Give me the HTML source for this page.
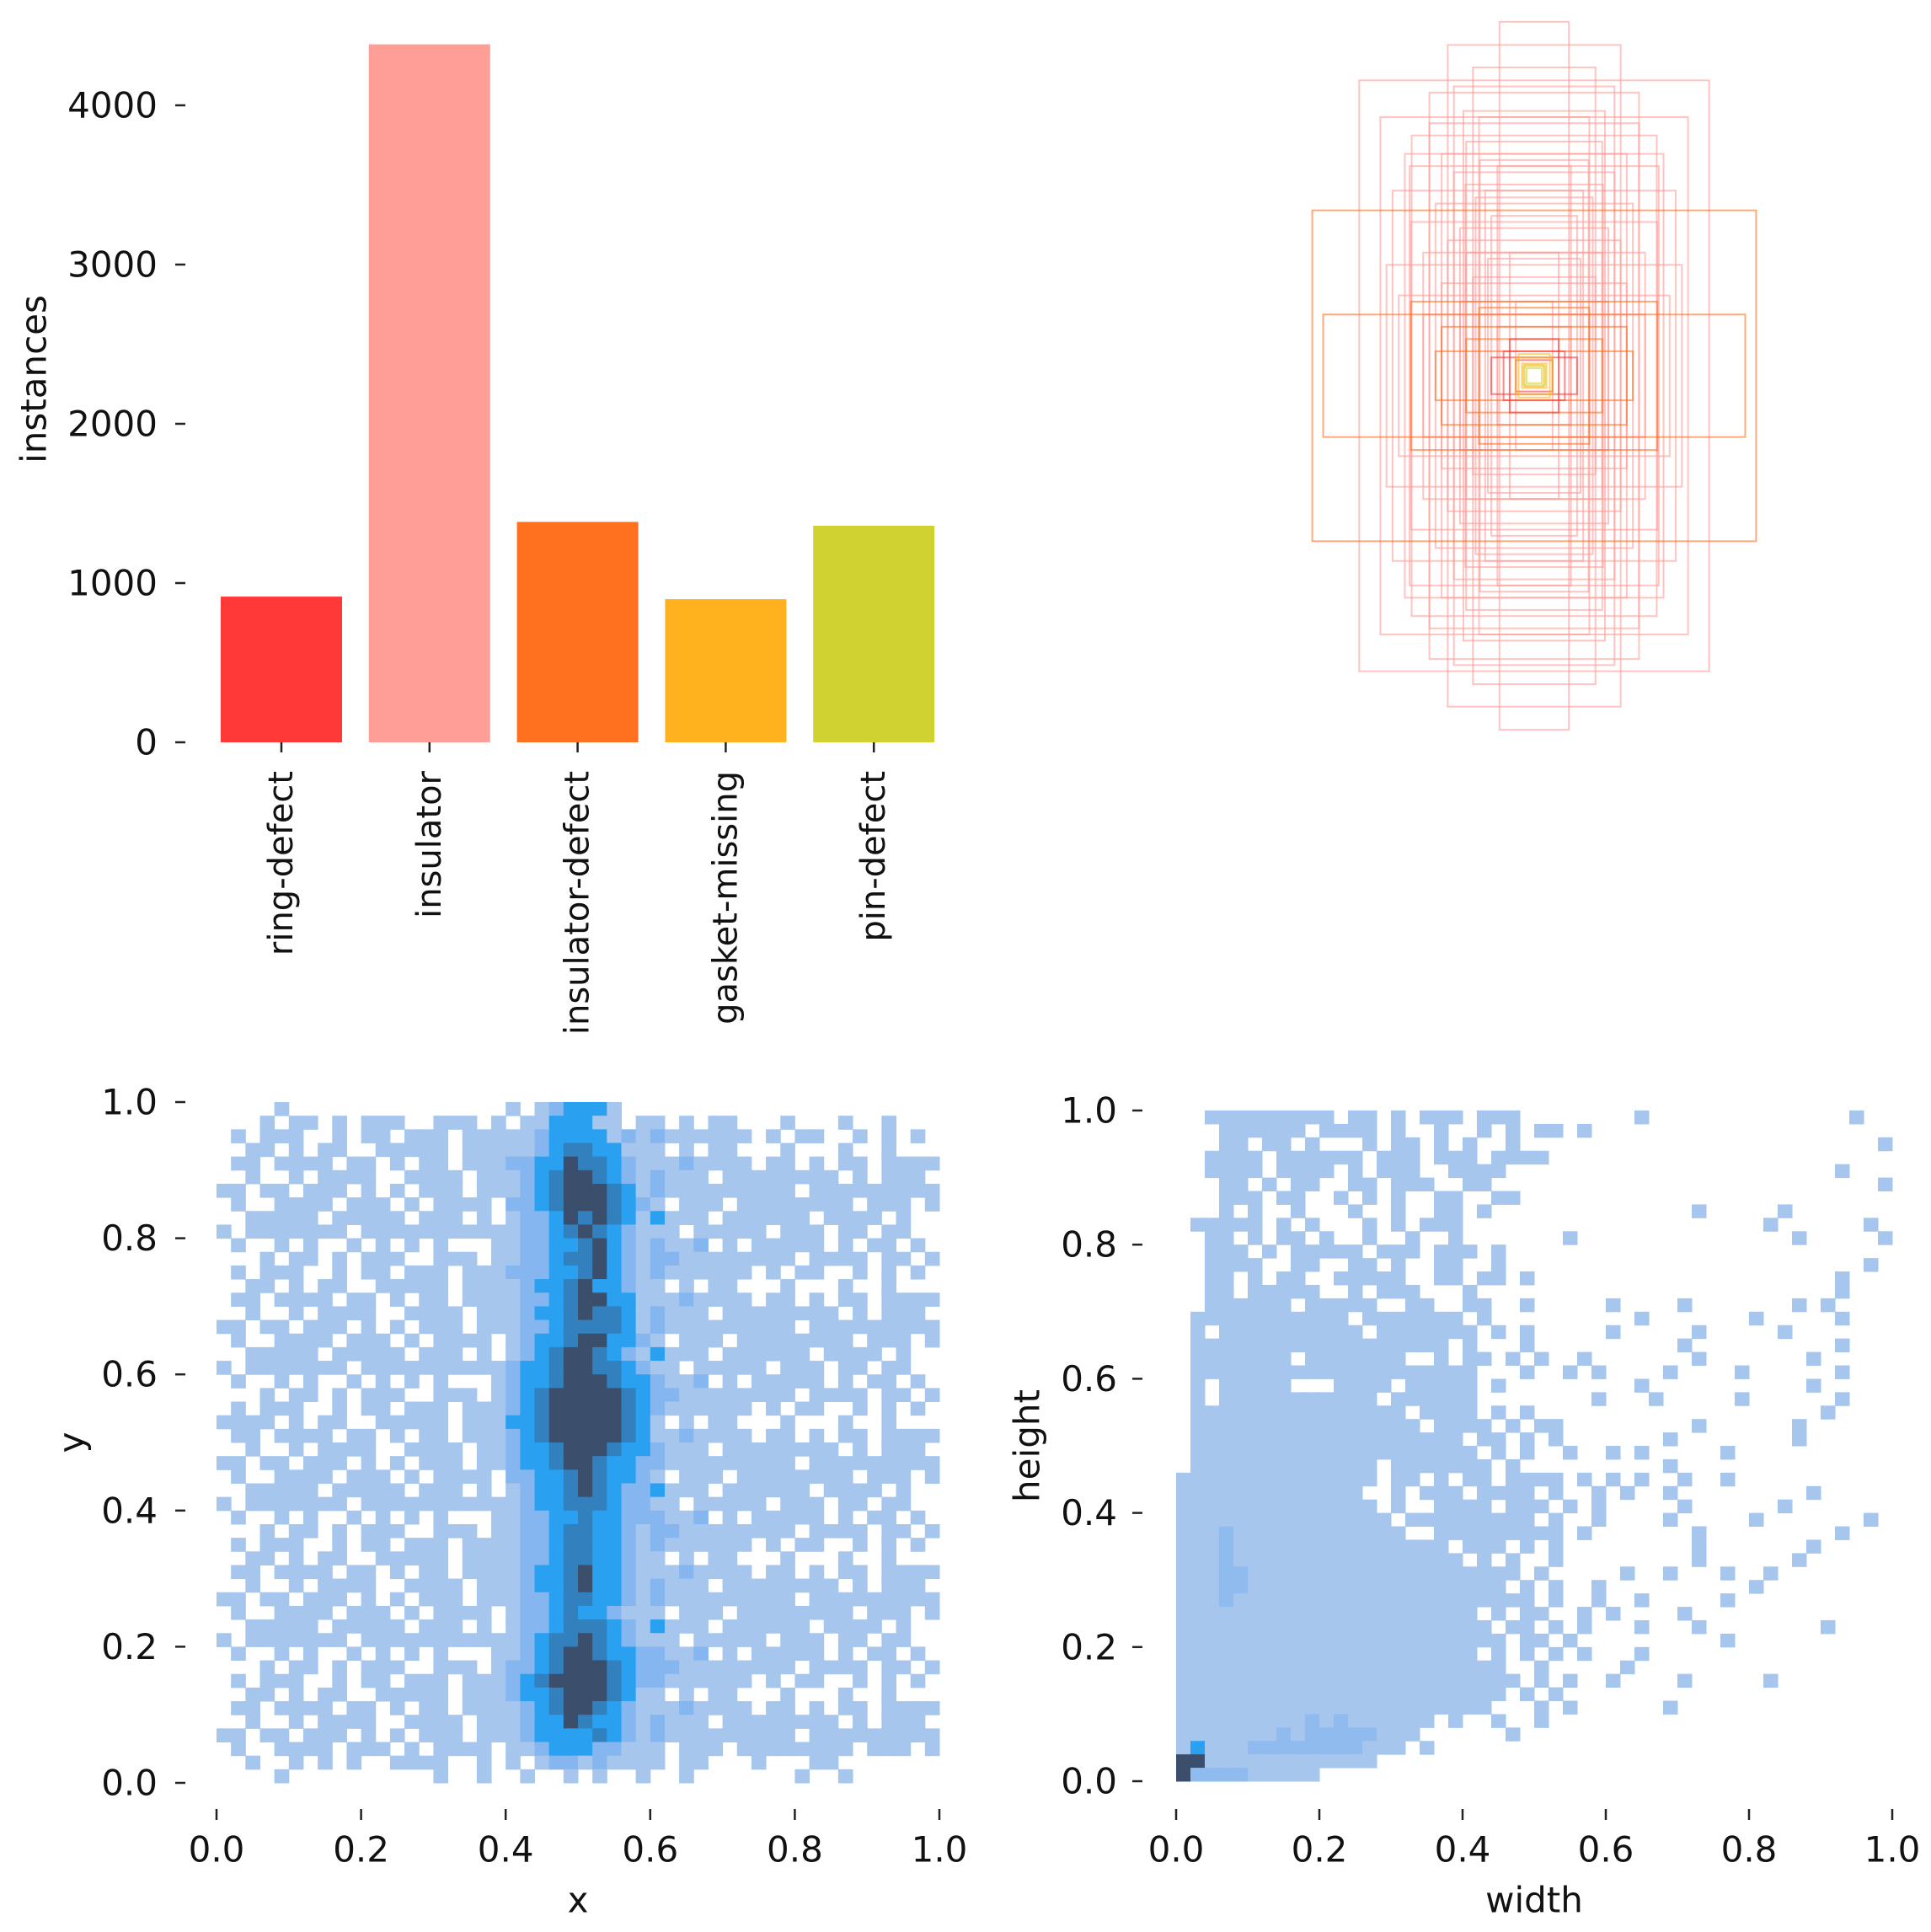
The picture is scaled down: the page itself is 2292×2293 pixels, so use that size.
<!DOCTYPE html>
<html><head><meta charset="utf-8"><style>
html,body{margin:0;padding:0;background:#fff}
svg text{font-family:"DejaVu Sans","Liberation Sans",sans-serif;font-size:42px;fill:#111}
</style></head><body>
<svg id="fig" xmlns="http://www.w3.org/2000/svg" width="2292" height="2288" viewBox="0 0 2292 2288">
<rect x="0" y="0" width="2292" height="2288" fill="#fff"/>
<g id="bar"></g>
<g id="boxes"></g>
<g id="xy"></g>
<g id="wh"></g>
</svg>
<script>
const classNames = ["ring-defect","insulator","insulator-defect","gasket-missing","pin-defect"];
const classCounts = [915, 4383, 1384, 899, 1360];
const classColors = ["#FF3838","#FF9D97","#FF701F","#FFB21D","#CFD231"];
const barTicks = [0,1000,2000,3000,4000];
const unitTicks = [0,0.2,0.4,0.6,0.8,1.0];
const unitTickLabels = ["0.0","0.2","0.4","0.6","0.8","1.0"];
const boxClass = [1,1,1,1,1,1,1,1,1,1,1,1,1,1,1,1,1,1,1,1,1,1,1,1,1,1,1,1,1,1,1,1,1,1,1,1,1,1,1,1,2,2,2,2,2,2,2,0,0,0,0,3,3,3,3,4,4];
const boxW = [.257,.051,.127,.18,.183,.101,.226,.154,.09,.208,.136,.118,.081,.181,.163,.145,.109,.1,.072,.063,.127,.136,.09,.217,.199,.054,.036,.027,.081,.109,.054,.163,.1,.086,.068,.19,.118,.154,.104,.08,.326,.31,.136,.1,.181,.081,.145,.045,.063,.036,.027,.018,.027,.023,.014,.011,.016];
const boxH = [.434,.52,.486,.353,.308,.281,.38,.416,.453,.272,.326,.299,.38,.226,.181,.253,.217,.181,.272,.235,.199,.136,.145,.163,.118,.308,.181,.109,.09,.109,.072,.09,.344,.262,.172,.326,.425,.371,.389,.317,.243,.09,.072,.054,.109,.1,.036,.036,.027,.054,.023,.018,.027,.032,.016,.011,.014];
const xyColors = ["","#a6c6ee","#86b6ef","#2aa0f0","#3380bf","#3b4e6c"];
const whColors = ["","#a6c6ee","#8fbbef","#2aa0f0","#3380bf","#3b4e6c"];
const xyRows = [
"....1..............."+"1.123331.."+"....................",
"...1.11.1.111..111.1"+".1133311.1"+"1.1.11...1...1..1...",
".1.111..1.11.111.111"+"1123333121"+"2111111.1.11..1.1.1.",
"..11.1.11..11111.111"+"1123443311"+"1.1.11...1...1..1...",
".11.1111.11.1.11.111"+"2233544321"+"1121111.11.1.11.1111",
"..1..1.1111..1111.11"+"1234554321"+"2111.11111111.1.111.",
"11.11.111.1.1.111.11"+"1234555431"+"2111111111.111111111",
".1..1111.111.1.1111."+"2234555432"+"1.111.11111111.111.1",
"..11111.11111.111.1."+"1223545431"+"3111.111111.1111.1..",
"1.1111111.1111111111"+"1223454321"+"11.11111.111.11.11..",
".1..1.1..1.1.1.1...1"+"1223345321"+"2112.1.11111.1.11.1.",
"...1.11.1.111..111.1"+"1223445321"+"2211111111.1111.11.1",
".1.111..1.11.111.111"+"2223345321"+"2111111.1.11..1.1.1.",
"..11.1.11..11111.111"+"1233453321"+"1.1.11...1...1..1...",
".11.1111.11.1.11.111"+"1223455331"+"1121111.11.1.11.1111",
"..1..1.1111..1111.11"+"1233454431"+"2111.11111111.1.111.",
"11.11.111.1.1.111.11"+"1223444431"+"2111111111.111111111",
".1..1111.111.1.1111."+"1233455332"+"1.111.11111111.111.1",
"..11111.11111.111.1."+"1234554321"+"3111.111111.1111.1..",
"1.1111111.1111111111"+"2334554432"+"11.11111.111.11.11..",
".1..1.1..1.1.1.1...1"+"2334555433"+"2112.1.11111.1.11.1.",
"...1.11.1.111..111.1"+"2345555543"+"2211111111.1111.11.1",
".1.111..1.11.111.111"+"2345555543"+"2111111.1.11..1.1.1.",
"1111.1.11..11111.111"+"3345555543"+"1.1.11...1...1..1...",
".11.1111.11.1.11.111"+"2345555543"+"1121111.11.1.11.1111",
"..1..1.1111..1111.11"+"2334555433"+"2111.11111111.1.111.",
"11.11.111.1.1.111.11"+"2334554332"+"2111111111.111111111",
".1..1111.111.1.1111."+"2233454332"+"1.111.11111111.111.1",
"..11111.11111.111.1."+"1233454322"+"3111.111111.1111.1..",
"1.1111111.1111111111"+"1233444322"+"11.11111.111.11.11..",
".1..1.1..1.1.1.1...1"+"1223343322"+"2112.1.11111.1.11.1.",
"...1.11.1.111..111.1"+"1223443321"+"2211111111.1111.11.1",
".1.111..1.11.111.111"+"1223443321"+"2111111.1.11..1.1.1.",
"..11.1.11..11111.111"+"1223443321"+"1.1.11...1...1..1...",
".11.1111.11.1.11.111"+"1233453321"+"1121111.11.1.11.1111",
"..1..1.1111..1111.11"+"1233453321"+"2111.11111111.1.111.",
"11.11.111.1.1.111.11"+"1223443321"+"2111111111.111111111",
".1..1111.111.1.1111."+"1223433211"+"1.111.11111111.111.1",
"..11111.11111.111.1."+"1223444321"+"3111.111111.1111.1..",
"1.1111111.1111111111"+"1234454321"+"11.11111.111.11.11..",
".1..1.1..1.1.1.1...1"+"1234554332"+"2112.1.11111.1.11.1.",
"...1.11.1.111..111.1"+"2234555432"+"2211111111.1111.11.1",
".1.111..1.11.111.111"+"2345555432"+"2111111.1.11..1.1.1.",
"..11.1.11..11111.111"+"2334555431"+"1.1.11...1...1..1...",
".11.1111.11.1.11.111"+"1234554321"+"1121111.11.1.11.1111",
"..1..1.1111..1111.11"+"1233543321"+"2111.11111111.1.111.",
"11.11.111.1.1.111.11"+"1233334321"+"2111111111.111111111",
".1..1111.111.1.1111."+"1123332211"+"1.111.11111111.111.1",
"..1..1.1.1..1111..1."+"1.12212111"+"1.11...1...11.......",
"....1..........1..1."+".1..1.1..1"+"..1.......1..1......"];
const whRows = [
"..111111111.11.1.111.111........1..............1..",
"...111111.1111.1..1..1.1.11.1.....................",
"...11.11.1...1.11.1.1..1.........................1",
"..1111.111111.111.111.1111........................",
"..1111.1111.1.111..1111.......................1...",
"...11.1.11..11.111..11...........................1",
"...111.11..1.1.1..11..11..........................",
"...1.1..1...1..1..11.1..............1.....1.......",
".11111.1.1...1.1.111.....................1......1.",
"..11.1.11.1..1..1..1.......1...............1.....1",
"..111.1.11111.111.111.1...........................",
"..1111..11..11.1..11..1.........................1.",
"..11.1.11..11111..11.11.1.....................1...",
"..11.11111..1.111...1.........................1...",
"..111111.11111..11..11..1.....1....1.......1.1....",
".11111111111.1111111.1..........1.......1.....1...",
".1.1111111111.1111111.1.1.....1.....1.....1.......",
".111111111111111111.1...1..........1..........1...",
".1111111.1111111..1.11.1.1..1.......1.......1.....",
".11111111111111111111...1..1.1....1....1......1...",
".1.11111...1111.11111.1.........1...........1.....",
".1.11111111111.111111........1...1.....1......1...",
".111111111111111.1111.1.1....................1....",
".1111111111111111.1111.1.11.........1......1......",
".1111111111111111111.11.1.1.......1........1......",
".11111111111111111111.1.1..1..1.1.....1...........",
".1111111111111.1111111.1..........1...............",
"11111111111111.11.1.11.1111.1.1.1..1..1...........",
"1111111111111..1.111.1111.1..1.1..1.........1.....",
"11111111111111.1..1111.111.1.1.....1......1.......",
"111111111111111.111111111.1..1....1.....1.......1.",
"1112111111111111..111111111.1.......1.........1...",
"1112111111111111111.111.1.1.........1.......1.....",
"11121111111111111111.1.1..1.........1......1......",
"111221111111111111111111.1.....1..1...1..1........",
"11122111111111111111111.1.1..1..........1.........",
"1112111111111111111111111.1..1..1.....1...........",
"111111111111111111111.1.11..1.1....1..............",
"1111111111111111111111.11.1.1...1...1........1....",
"11111111111111111111111.11.1..........1...........",
"111111111111111111111.1.1.1.1...1.................",
"11111111111111111111111..1.....1..................",
"111111111111111111111111.1.1..1....1.....1........",
"11111111111111111111111.1.1.......................",
"1111111111111111111111...1.1......1...............",
"111111111212111111.1..1..1........................",
"11111112122222111......1..........................",
"1311122222222111.1................................",
"55111111111111....................................",
"5222211111........................................"];

const NS = "http://www.w3.org/2000/svg";
function mk(parent, tag, attrs, txt){
  const e = document.createElementNS(NS, tag);
  for (const k in attrs) e.setAttribute(k, attrs[k]);
  if (txt !== undefined) e.textContent = txt;
  parent.appendChild(e);
  return e;
}

/* ---------- bar chart ---------- */
const bar = document.getElementById('bar');
const barY = v => 881 - v * 0.189;
const barCx = i => 334 + i * 175.8;
const barW = 144;
barTicks.forEach(t => {
  const tk = mk(bar, 'line', {x1:208, x2:220, y1:barY(t), y2:barY(t), stroke:'#222', 'stroke-width':2.5});
  
  
  const lb = mk(bar, 'text', {x:187, y:barY(t), 'text-anchor':'end', 'dominant-baseline':'central'}, String(t));
  
  
});
classNames.forEach((n, i) => {
  const r = mk(bar, 'rect', {x:barCx(i)-barW/2, y:barY(classCounts[i]), width:barW, height:barY(0)-barY(classCounts[i]), fill:classColors[i]});
  
  
  const tk = mk(bar, 'line', {x1:barCx(i), x2:barCx(i), y1:881, y2:893, stroke:'#222', 'stroke-width':2.5});
  
  
  const lb = mk(bar, 'text', {transform:'translate(' + barCx(i) + ',915) rotate(-90)', 'text-anchor':'end', 'dominant-baseline':'central', style:'font-size:40px'}, n);
  
  
});
const yl = mk(bar, 'text', {transform:'translate(40,450) rotate(-90)', 'text-anchor':'middle', 'dominant-baseline':'central'}, 'instances');



/* ---------- box overlay ---------- */
const bx = document.getElementById('boxes');
const bcx = 1821, bcy = 446, bscale = 1616;
boxW.forEach((w, i) => {
  const h = boxH[i];
  const r = mk(bx, 'rect', {x:bcx - w*bscale/2, y:bcy - h*bscale/2, width:w*bscale, height:h*bscale, fill:'none', stroke:classColors[boxClass[i]], 'stroke-width':2, 'stroke-opacity':0.6});
  
  
});

/* ---------- heatmaps ---------- */
function heat(g, rows, colors, x0, x1, y0, y1, tickX, tickLabelX, xTitle, yTitle, yTitleX, prefix){
  const sx = v => x0 + v*(x1-x0);
  const sy = v => y0 - v*(y0-y1);
  const n = 50;
  rows.forEach((row, r) => {
    for (let c = 0; c < n; c++) {
      const ch = row[c] || '.';
      if (ch === '.' || ch === ' ') continue;
      const lv = +ch;
      const xa = sx(c/n), xb = sx((c+1)/n), ya = sy(1 - r/n), yb = sy(1 - (r+1)/n);
      const cell = mk(g, 'rect', {x:xa, y:ya, width:xb-xa+0.5, height:yb-ya+0.5, fill:colors[lv]});
      
      
    }
  });
  unitTicks.forEach((t, i) => {
    const a = mk(g, 'line', {x1:tickX, x2:tickX+12, y1:sy(t), y2:sy(t), stroke:'#222', 'stroke-width':2.5});
    
    
    const al = mk(g, 'text', {x:tickLabelX, y:sy(t), 'text-anchor':'end', 'dominant-baseline':'central'}, unitTickLabels[i]);
    
    
    const b = mk(g, 'line', {x1:sx(t), x2:sx(t), y1:2147, y2:2160, stroke:'#222', 'stroke-width':2.5});
    
    
    const bl = mk(g, 'text', {x:sx(t), y:2195, 'text-anchor':'middle', 'dominant-baseline':'central'}, unitTickLabels[i]);
    
    
  });
  const xt = mk(g, 'text', {x:(x0+x1)/2, y:2255, 'text-anchor':'middle', 'dominant-baseline':'central'}, xTitle);
  
  
  const yt = mk(g, 'text', {transform:'translate(' + yTitleX + ',' + (y0+y1)/2 + ') rotate(-90)', 'text-anchor':'middle', 'dominant-baseline':'central'}, yTitle);
  
  
}
heat(document.getElementById('xy'), xyRows, xyColors, 257, 1115, 2116, 1308, 208, 187, 'x', 'y', 85, 'xy');
heat(document.getElementById('wh'), whRows, whColors, 1396, 2246, 2114, 1318, 1344, 1326, 'width', 'height', 1219, 'wh');
</script>
</body></html>
